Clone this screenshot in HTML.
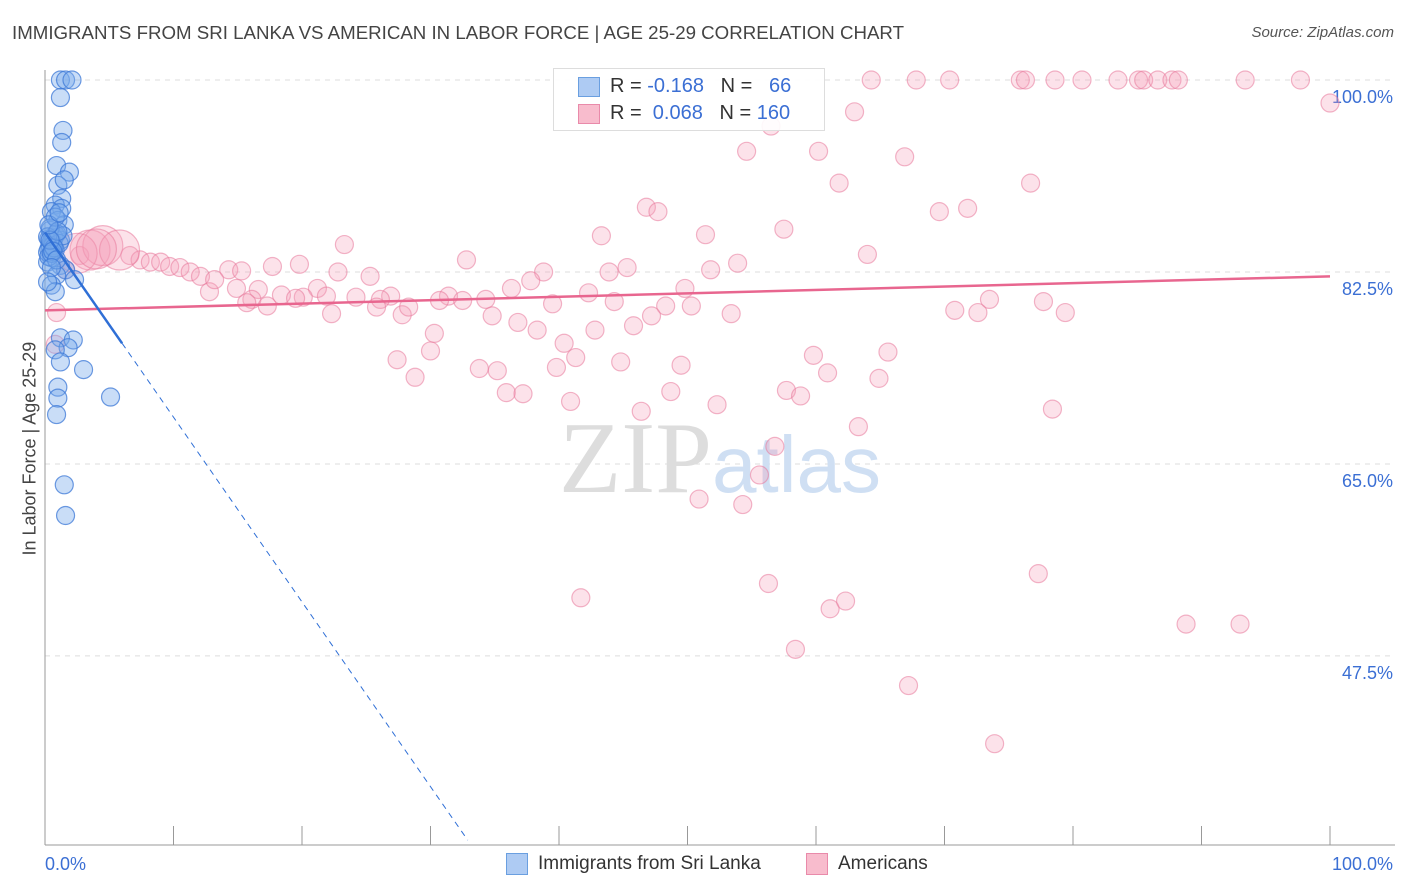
<!DOCTYPE html>
<html><head><meta charset="utf-8">
<style>
body{margin:0;background:#fff;font-family:"Liberation Sans",sans-serif;}
#wrap{position:relative;width:1406px;height:892px;overflow:hidden;}
.t{position:absolute;white-space:nowrap;}
</style></head>
<body>
<div id="wrap">
<div class="t" style="left:12px;top:22px;font-size:18.7px;color:#444;">IMMIGRANTS FROM SRI LANKA VS AMERICAN IN LABOR FORCE | AGE 25-29 CORRELATION CHART</div>
<div class="t" style="right:12px;top:24px;font-size:15px;color:#555;font-style:italic;">Source: ZipAtlas.com</div>
<svg id="svg" width="1406" height="892" style="position:absolute;left:0;top:0"></svg>
</div>
<script>
const yTicks=[100,82.5,65,47.5];
const yTickLabels=["100.0%","82.5%","65.0%","47.5%"];
const xTickLabels=["0.0%","100.0%"];
const blueX=[1.2,1.6,2.1,1.2,1.4,1.3,0.9,1.9,1.0,1.5,1.3,0.8,1.3,0.5,1.0,1.5,0.4,0.8,1.2,0.4,0.8,0.5,0.2,1.2,1.6,0.9,2.3,0.5,0.8,1.2,2.2,1.8,0.8,1.2,3.0,1.0,1.0,5.1,0.9,1.5,1.6,0.3,0.6,0.4,0.7,0.3,0.5,0.9,0.2,0.6,1.1,0.4,0.8,0.3,1.4,0.5,0.2,0.7,1.0,0.4,0.6,0.3,0.9,0.5,0.2,1.1];
const blueY=[100,100,100,98.4,95.4,94.3,92.2,91.6,90.4,90.9,89.2,88.6,88.3,88.0,87.2,86.8,86.3,85.9,85.4,85.0,84.5,83.8,83.4,83.1,82.7,82.2,81.8,81.3,80.7,76.5,76.3,75.6,75.4,74.3,73.6,72.0,71.0,71.1,69.5,63.1,60.3,85.5,85.2,84.8,85.6,84.6,85.3,86.0,84.3,84.9,85.1,86.5,87.5,83.9,85.8,84.2,85.7,84.7,86.2,85.4,84.4,86.8,83.6,82.9,81.6,87.9];
const pinkX=[64.3,67.8,70.4,75.9,76.3,78.6,80.7,83.5,85.1,85.5,86.6,87.7,88.2,93.4,97.7,100,63.0,56.5,54.6,60.2,66.9,61.8,76.7,46.8,47.7,69.6,71.8,57.5,51.4,43.3,23.3,64.0,32.8,45.3,43.9,51.8,53.9,38.8,37.8,22.8,25.3,17.7,19.8,14.3,15.3,49.8,42.3,44.3,36.3,34.3,31.4,30.7,32.5,26.9,26.1,24.2,21.2,21.9,20.1,18.4,19.5,16.6,14.9,16.1,12.8,17.3,15.7,22.3,25.8,27.8,28.3,34.8,39.5,48.3,50.3,47.2,53.4,36.8,38.3,42.8,45.8,30.3,40.4,70.8,72.6,73.5,77.7,79.4,0.9,0.8,30.0,27.4,28.8,33.8,35.2,35.9,37.2,39.8,41.3,44.8,49.5,48.7,40.9,46.4,52.3,57.7,58.8,59.8,60.9,64.9,65.6,78.4,63.3,56.8,55.6,50.9,54.3,56.3,41.7,61.1,62.3,77.3,88.8,93.0,58.4,67.2,73.9,2.7,6.6,7.4,8.2,9.0,9.7,10.5,11.3,12.1,13.2,1.6];
const pinkY=[100,100,100,100,100,100,100,100,100,100,100,100,100,100,100,97.9,97.1,95.8,93.5,93.5,93.0,90.6,90.6,88.4,88.0,88.0,88.3,86.4,85.9,85.8,85.0,84.1,83.6,82.9,82.5,82.7,83.3,82.5,81.7,82.5,82.1,83.0,83.2,82.7,82.6,81.0,80.6,79.8,81.0,80.0,80.3,79.9,79.9,80.3,80.0,80.2,81.0,80.3,80.2,80.4,80.1,80.9,81.0,80.0,80.7,79.4,79.7,78.7,79.3,78.6,79.3,78.5,79.6,79.4,79.4,78.5,78.7,77.9,77.2,77.2,77.6,76.9,76.0,79.0,78.8,80.0,79.8,78.8,78.8,75.9,75.3,74.5,72.9,73.7,73.5,71.5,71.4,73.8,74.7,74.3,74.0,71.6,70.7,69.8,70.4,71.7,71.2,74.9,73.3,72.8,75.2,70.0,68.4,66.6,64.0,61.8,61.3,54.1,52.8,51.8,52.5,55.0,50.4,50.4,48.1,44.8,39.5,84.0,84.0,83.6,83.4,83.4,83.0,82.9,82.5,82.1,81.8,82.7];
const bigX=[3.5,4.5,5.8,2.5,4.0];
const bigY=[84.5,84.9,84.5,84.2,84.6];
const pinkTrend=[79.0,82.1];
const blueTrend=[86.1,76.0,32.9,30.7];
const X=v=>45+v*12.85, Y=v=>80+(100-v)*10.97;
const svg=document.getElementById('svg');const NS='http://www.w3.org/2000/svg';
function el(tag,at){const e=document.createElementNS(NS,tag);for(const k in at)e.setAttribute(k,at[k]);svg.appendChild(e);return e;}
yTicks.forEach((t,i)=>{const g=el('line',{x1:45,x2:1395,y1:Y(t),y2:Y(t),stroke:'#ddd','stroke-dasharray':'5,5'});


const tx=el('text',{x:1393,y:Y(t)+23,'text-anchor':'end','font-size':18,fill:'#3b6fd4','font-family':'Liberation Sans'});tx.textContent=yTickLabels[i];

});
let ax=el('line',{x1:45,x2:45,y1:70,y2:845,stroke:'#999'});


ax=el('line',{x1:45,x2:1395,y1:845,y2:845,stroke:'#999'});


for(let i=0;i<=10;i++){const tk=el('line',{x1:X(i*10),x2:X(i*10),y1:826,y2:845,stroke:'#999'});

}
[[0,45,'start'],[100,1393,'end']].forEach((a,i)=>{const tx=el('text',{x:a[1],y:870,'text-anchor':a[2],'font-size':18,fill:'#3b6fd4','font-family':'Liberation Sans'});tx.textContent=xTickLabels[i];

});
let wm=el('text',{x:720,y:492,'text-anchor':'middle','font-size':102,fill:'#ddd','font-family':'Liberation Serif'});wm.innerHTML='ZIP<tspan fill="#cfdff3" font-family="Liberation Sans" font-size="80">atlas</tspan>';


pinkX.forEach((x,i)=>{const c=el('circle',{cx:X(x),cy:Y(pinkY[i]),r:9,fill:'rgba(244,160,186,0.3)',stroke:'rgba(232,120,155,0.55)','stroke-width':1.2});

});
bigX.forEach((x,i)=>{const c=el('circle',{cx:X(x),cy:Y(bigY[i]),r:20,fill:'rgba(244,160,186,0.3)',stroke:'rgba(232,120,155,0.55)','stroke-width':1.2});

});
blueX.forEach((x,i)=>{const c=el('circle',{cx:X(x),cy:Y(blueY[i]),r:9,fill:'rgba(120,170,235,0.4)',stroke:'rgba(60,120,215,0.75)','stroke-width':1.2});

});
let l=el('line',{x1:X(0),y1:Y(pinkTrend[0]),x2:X(100),y2:Y(pinkTrend[1]),stroke:'#e8668f','stroke-width':2.5});


l=el('line',{x1:X(0),y1:Y(blueTrend[0]),x2:X(6),y2:Y(blueTrend[1]),stroke:'#2f6fd6','stroke-width':2.5});


l=el('line',{x1:X(6),y1:Y(blueTrend[1]),x2:X(blueTrend[2]),y2:Y(blueTrend[3]),stroke:'#2f6fd6','stroke-width':1,'stroke-dasharray':'6,5'});


</script>
<div class="t" style="left:-70px;top:445px;width:200px;text-align:center;transform:rotate(-90deg);font-size:18px;color:#444;">In Labor Force | Age 25-29</div>
<div style="position:absolute;left:553px;top:68px;width:270px;height:61px;border:1px solid #ddd;background:rgba(255,255,255,0.9);font-size:20px;color:#333;">
<div style="position:absolute;left:24px;top:8px;width:20px;height:18px;background:#aecbf3;border:1px solid #6a9fe0"></div>
<div class="t" style="left:56px;top:6px">R = <span style="color:#3b6fd4">-0.168</span>&nbsp;&nbsp;&nbsp;N = <span style="color:#3b6fd4">&nbsp;&nbsp;66</span></div>
<div style="position:absolute;left:24px;top:35px;width:20px;height:18px;background:#f8bccd;border:1px solid #e98aaa"></div>
<div class="t" style="left:56px;top:33px">R = <span style="color:#3b6fd4">&nbsp;0.068</span>&nbsp;&nbsp;&nbsp;N = <span style="color:#3b6fd4">160</span></div>
</div>
<div style="position:absolute;left:506px;top:853px;width:20px;height:20px;background:#aecbf3;border:1px solid #6a9fe0"></div>
<div class="t" style="left:538px;top:853px;font-size:19px;color:#333">Immigrants from Sri Lanka</div>
<div style="position:absolute;left:806px;top:853px;width:20px;height:20px;background:#f8bccd;border:1px solid #e98aaa"></div>
<div class="t" style="left:838px;top:853px;font-size:19px;color:#333">Americans</div>
</body></html>
